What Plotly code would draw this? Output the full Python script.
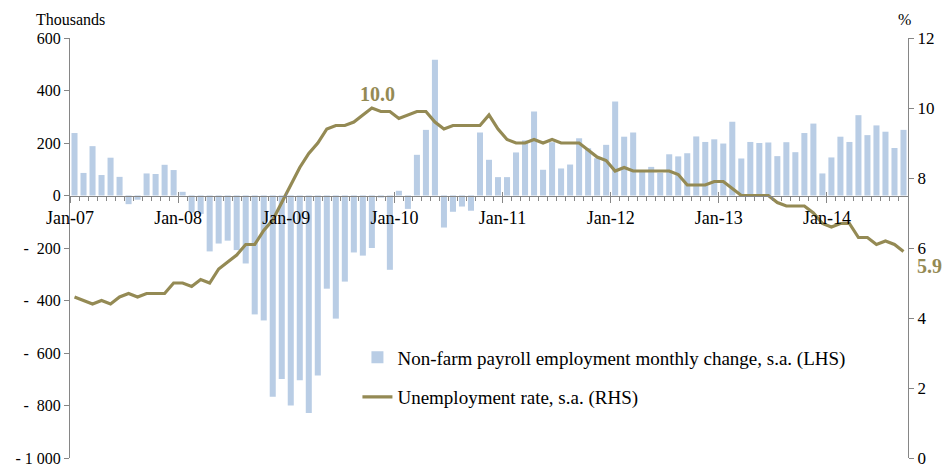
import plotly.graph_objects as go

# ---- data ----
month_index = list(range(93))  # Jan-07 .. Sep-14

payroll_change = [
    238, 86, 188, 78, 144, 71, -33, -16, 84, 82, 117, 97,            # 2007
    14, -65, -70, -213, -183, -172, -208, -259, -453, -476, -767, -699,  # 2008
    -800, -704, -829, -686, -355, -469, -328, -217, -229, -200, -8, -283,  # 2009
    18, -51, 155, 250, 517, -122, -62, -42, -58, 240, 136, 70,        # 2010
    70, 164, 210, 320, 98, 203, 103, 118, 218, 180, 142, 193,         # 2011
    358, 224, 240, 96, 109, 87, 157, 149, 161, 225, 204, 214,         # 2012
    198, 281, 141, 204, 200, 202, 150, 203, 165, 238, 274, 84,        # 2013
    145, 224, 204, 306, 230, 267, 243, 181, 250,                      # 2014
]

unemployment_rate = [
    4.6, 4.5, 4.4, 4.5, 4.4, 4.6, 4.7, 4.6, 4.7, 4.7, 4.7, 5.0,
    5.0, 4.9, 5.1, 5.0, 5.4, 5.6, 5.8, 6.1, 6.1, 6.5, 6.8, 7.3,
    7.8, 8.3, 8.7, 9.0, 9.4, 9.5, 9.5, 9.6, 9.8, 10.0, 9.9, 9.9,
    9.7, 9.8, 9.9, 9.9, 9.6, 9.4, 9.5, 9.5, 9.5, 9.5, 9.8, 9.4,
    9.1, 9.0, 9.0, 9.1, 9.0, 9.1, 9.0, 9.0, 9.0, 8.8, 8.6, 8.5,
    8.2, 8.3, 8.2, 8.2, 8.2, 8.2, 8.2, 8.1, 7.8, 7.8, 7.8, 7.9,
    7.9, 7.7, 7.5, 7.5, 7.5, 7.5, 7.3, 7.2, 7.2, 7.2, 7.0, 6.7,
    6.6, 6.7, 6.7, 6.3, 6.3, 6.1, 6.2, 6.1, 5.9,
]

year_tick_labels = ["Jan-07", "Jan-08", "Jan-09", "Jan-10", "Jan-11", "Jan-12", "Jan-13", "Jan-14"]
year_tick_positions = [12 * k - 0.5 for k in range(len(year_tick_labels))]

lhs_tickvals = [600, 400, 200, 0, -200, -400, -600, -800, -1000]
lhs_ticktext = ["600", "400", "200", "0", "-  200", "-  400", "-  600", "-  800", "- 1 000"]
rhs_tickvals = [0, 2, 4, 6, 8, 10, 12]

peak_label = "10.0"
last_label = "5.9"

# ---- style ----
FONT = "Liberation Serif, Times New Roman, serif"
AXIS = "#868686"
BAR = "#B9CDE5"
LINE = "#948A54"

fig = go.Figure()
fig.add_trace(go.Bar(
    x=month_index, y=payroll_change,
    name="Non-farm payroll employment monthly change, s.a. (LHS)",
    marker=dict(color=BAR, line=dict(width=0)),
    xaxis="x", yaxis="y", legendgroup="a",
))
fig.add_trace(go.Scatter(
    x=month_index, y=unemployment_rate, mode="lines",
    name="Unemployment rate, s.a. (RHS)",
    line=dict(color=LINE, width=3.2),
    xaxis="x3", yaxis="y2", legendgroup="b",
))

peak_i = unemployment_rate.index(max(unemployment_rate))
fig.add_annotation(x=month_index[peak_i], y=unemployment_rate[peak_i], xref="x3", yref="y2",
                   text=f"<b>{peak_label}</b>", showarrow=False, xshift=6, yshift=14,
                   font=dict(family=FONT, size=20, color=LINE))
fig.add_annotation(x=month_index[-1], y=unemployment_rate[-1], xref="x3", yref="y2",
                   text=f"<b>{last_label}</b>", showarrow=False, xanchor="left",
                   xshift=12, yshift=-14,
                   font=dict(family=FONT, size=20, color=LINE))
fig.add_annotation(x=0, y=1, xref="paper", yref="paper", xanchor="center", yanchor="bottom",
                   text="Thousands", showarrow=False, yshift=8,
                   font=dict(family=FONT, size=16, color="black"))
fig.add_annotation(x=1, y=1, xref="paper", yref="paper", xanchor="center", yanchor="bottom",
                   text="%", showarrow=False, xshift=-4, yshift=8,
                   font=dict(family=FONT, size=16, color="black"))

zero_pos = (0 - lhs_tickvals[-1]) / (lhs_tickvals[0] - lhs_tickvals[-1])
xrange_ = [-0.5, len(month_index) - 0.5]

fig.update_layout(
    width=942, height=469,
    margin=dict(l=70, r=34, t=38, b=11),
    paper_bgcolor="white", plot_bgcolor="white",
    font=dict(family=FONT, size=16, color="black"),
    bargap=0.33,
    showlegend=True,
    legend=dict(x=0.343, y=0.285, xanchor="left", yanchor="top",
                font=dict(family=FONT, size=19, color="black"),
                bgcolor="rgba(0,0,0,0)", tracegroupgap=12, itemwidth=30),
    xaxis=dict(
        anchor="free", position=zero_pos, range=xrange_,
        tickmode="array", tickvals=year_tick_positions, ticktext=year_tick_labels,
        ticks="outside", ticklen=6, tickcolor=AXIS, tickwidth=1,
        minor=dict(tickvals=[i - 0.5 for i in range(len(month_index) + 1)],
                   ticks="outside", ticklen=4, tickcolor=AXIS, tickwidth=1),
        showline=True, linecolor=AXIS, linewidth=1,
        showgrid=False, zeroline=False,
        tickfont=dict(family=FONT, size=18, color="black"),
        automargin=False,
    ),
    xaxis3=dict(
        overlaying="x", anchor="free", position=zero_pos, range=xrange_,
        tickmode="array", tickvals=year_tick_positions,
        ticks="inside", ticklen=4, tickcolor=AXIS, tickwidth=1,
        showticklabels=False, showline=False, showgrid=False, zeroline=False,
    ),
    yaxis=dict(
        range=[lhs_tickvals[-1], lhs_tickvals[0]],
        tickmode="array", tickvals=lhs_tickvals, ticktext=lhs_ticktext,
        ticks="outside", ticklen=5, tickcolor=AXIS,
        showline=True, linecolor=AXIS, linewidth=1,
        showgrid=False, zeroline=False,
        tickfont=dict(family=FONT, size=16, color="black"),
        automargin=False,
    ),
    yaxis2=dict(
        overlaying="y", side="right", anchor="x", range=[rhs_tickvals[0], rhs_tickvals[-1]],
        tickmode="array", tickvals=rhs_tickvals,
        ticks="outside", ticklen=5, tickcolor=AXIS,
        showline=True, linecolor=AXIS, linewidth=1,
        showgrid=False, zeroline=False,
        tickfont=dict(family=FONT, size=17, color="black"),
        automargin=False,
    ),
)

# remove the browser's default 8px body margin so the 942x469 figure fills the window
fig.write_html(
    "out.html",
    config={"displayModeBar": False},
    post_script="document.body.style.margin='0px';document.body.style.overflow='hidden';",
)
